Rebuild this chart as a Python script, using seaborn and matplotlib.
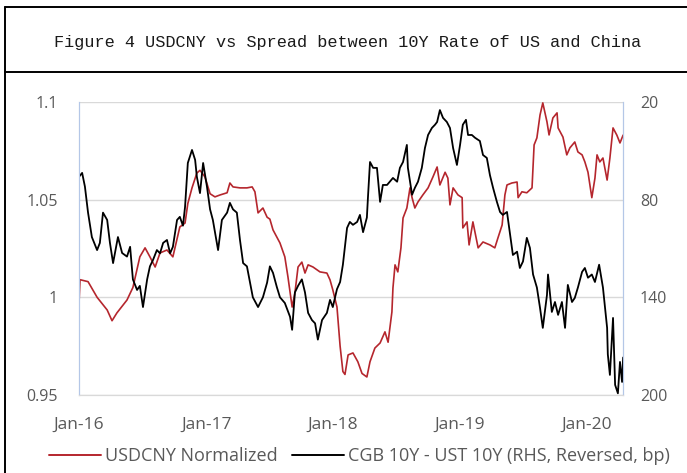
import matplotlib
matplotlib.use("Agg")
import matplotlib.pyplot as plt
import matplotlib.dates as mdates
from matplotlib.lines import Line2D
import seaborn as sns
import pandas as pd

# USDCNY normalized (left axis)
fx_dates = [
    "2016-01-01", "2016-01-04", "2016-01-27", "2016-02-22", "2016-03-22", "2016-04-05",
    "2016-04-19", "2016-05-18", "2016-06-04", "2016-06-24", "2016-07-09", "2016-07-23",
    "2016-08-07", "2016-08-21", "2016-09-10", "2016-09-27", "2016-10-17", "2016-11-01",
    "2016-11-09", "2016-11-21", "2016-12-05", "2016-12-14", "2016-12-28", "2017-01-12",
    "2017-01-26", "2017-02-10", "2017-03-02", "2017-03-10", "2017-03-19", "2017-04-08",
    "2017-04-28", "2017-05-13", "2017-05-21", "2017-05-30", "2017-06-13", "2017-06-25",
    "2017-07-03", "2017-07-12", "2017-08-01", "2017-08-15", "2017-08-24", "2017-09-05",
    "2017-09-13", "2017-09-22", "2017-10-03", "2017-10-12", "2017-10-21", "2017-11-04",
    "2017-11-24", "2017-12-14", "2017-12-23", "2017-12-31", "2018-01-12", "2018-01-21",
    "2018-01-29", "2018-02-04", "2018-02-13", "2018-02-27", "2018-03-13", "2018-03-25",
    "2018-04-08", "2018-04-17", "2018-05-01", "2018-05-16", "2018-05-30", "2018-06-08",
    "2018-06-19", "2018-06-22", "2018-06-28", "2018-07-06", "2018-07-15", "2018-07-21",
    "2018-08-01", "2018-08-10", "2018-08-16", "2018-08-24", "2018-09-02", "2018-09-16",
    "2018-10-01", "2018-10-15", "2018-10-27", "2018-11-04", "2018-11-19", "2018-11-27",
    "2018-12-03", "2018-12-12", "2018-12-26", "2019-01-07", "2019-01-09", "2019-01-21",
    "2019-01-27", "2019-02-07", "2019-02-22", "2019-03-08", "2019-03-28", "2019-04-11",
    "2019-04-20", "2019-05-02", "2019-05-10", "2019-05-16", "2019-05-30", "2019-06-14",
    "2019-06-17", "2019-06-28", "2019-07-12", "2019-07-27", "2019-08-02", "2019-08-10",
    "2019-08-19", "2019-08-27", "2019-09-08", "2019-09-14", "2019-09-25", "2019-10-07",
    "2019-10-10", "2019-10-24", "2019-11-04", "2019-11-13", "2019-11-27", "2019-12-06",
    "2019-12-18", "2019-12-26", "2020-01-04", "2020-01-15", "2020-01-24", "2020-01-30",
    "2020-02-07", "2020-02-16", "2020-02-28", "2020-03-07", "2020-03-16", "2020-03-27",
    "2020-04-05", "2020-04-14",
]
fx_values = [
    0.997, 1.009, 1.008, 1.000, 0.9935, 0.988,
    0.992, 0.9986, 1.005, 1.0207, 1.0253, 1.0207,
    1.0155, 1.0227, 1.0242, 1.0207, 1.036, 1.038,
    1.048, 1.056, 1.0636, 1.065, 1.0617, 1.053,
    1.0514, 1.0524, 1.0535, 1.0585, 1.0565, 1.056,
    1.056, 1.0565, 1.054, 1.0432, 1.0457, 1.041,
    1.040, 1.0345, 1.0278, 1.0207, 1.0104, 0.995,
    1.0022, 1.0155, 1.018, 1.0124, 1.0166, 1.0155,
    1.013, 1.0124, 1.0089, 1.0038, 0.995, 0.975,
    0.962, 0.9605, 0.9705, 0.9715, 0.967, 0.961,
    0.9592, 0.967, 0.974, 0.9766, 0.9823, 0.977,
    0.9925, 1.0048, 1.0166, 1.013, 1.0253, 1.0406,
    1.0457, 1.056, 1.051, 1.0457, 1.0488, 1.0524,
    1.056, 1.0616, 1.0667, 1.0575, 1.064, 1.061,
    1.0473, 1.056, 1.0524, 1.051, 1.0355, 1.0386,
    1.0268, 1.0386, 1.0253, 1.0283, 1.0268, 1.0253,
    1.0304, 1.037, 1.0524, 1.0575, 1.0585, 1.059,
    1.051, 1.054, 1.0535, 1.056, 1.078, 1.0816,
    1.0933, 1.0995, 1.0898, 1.0831, 1.0918, 1.0944,
    1.0867, 1.082, 1.0729, 1.0765, 1.0795, 1.0744,
    1.0729, 1.0693, 1.064, 1.051, 1.061, 1.0729,
    1.0693, 1.0713, 1.060, 1.0713, 1.0867, 1.083,
    1.079, 1.083,
]

# CGB 10Y - UST 10Y spread in bp (right axis, reversed)
spread_dates = [
    "2016-01-01", "2016-01-10", "2016-01-18", "2016-01-27", "2016-02-07", "2016-02-22",
    "2016-03-01", "2016-03-10", "2016-03-22", "2016-03-30", "2016-04-08", "2016-04-22",
    "2016-05-04", "2016-05-18", "2016-05-27", "2016-06-04", "2016-06-16", "2016-06-24",
    "2016-07-03", "2016-07-15", "2016-07-23", "2016-08-01", "2016-08-12", "2016-08-21",
    "2016-08-30", "2016-09-10", "2016-09-19", "2016-09-27", "2016-10-09", "2016-10-17",
    "2016-10-26", "2016-11-01", "2016-11-09", "2016-11-21", "2016-11-30", "2016-12-05",
    "2016-12-14", "2016-12-23", "2017-01-03", "2017-01-12", "2017-01-20", "2017-02-04",
    "2017-02-15", "2017-03-02", "2017-03-10", "2017-03-19", "2017-03-30", "2017-04-08",
    "2017-04-17", "2017-04-28", "2017-05-07", "2017-05-15", "2017-05-30", "2017-06-13",
    "2017-06-25", "2017-07-03", "2017-07-12", "2017-07-23", "2017-08-01", "2017-08-15",
    "2017-08-30", "2017-09-05", "2017-09-13", "2017-09-22", "2017-10-03", "2017-10-12",
    "2017-10-21", "2017-11-01", "2017-11-10", "2017-11-18", "2017-11-30", "2017-12-14",
    "2017-12-23", "2017-12-31", "2018-01-12", "2018-01-21", "2018-01-29", "2018-02-10",
    "2018-02-18", "2018-02-27", "2018-03-11", "2018-03-19", "2018-03-28", "2018-04-08",
    "2018-04-11", "2018-04-17", "2018-04-26", "2018-05-07", "2018-05-16", "2018-05-24",
    "2018-06-05", "2018-06-13", "2018-06-22", "2018-07-04", "2018-07-12", "2018-07-21",
    "2018-08-01", "2018-08-04", "2018-08-16", "2018-08-24", "2018-09-02", "2018-09-13",
    "2018-09-22", "2018-10-01", "2018-10-12", "2018-10-21", "2018-10-27", "2018-11-04",
    "2018-11-13", "2018-11-24", "2018-12-03", "2018-12-12", "2018-12-23", "2019-01-01",
    "2019-01-09", "2019-01-18", "2019-01-24", "2019-02-04", "2019-02-13", "2019-02-27",
    "2019-03-08", "2019-03-19", "2019-03-28", "2019-04-06", "2019-04-17", "2019-04-26",
    "2019-05-04", "2019-05-16", "2019-05-25", "2019-06-02", "2019-06-14", "2019-06-22",
    "2019-07-01", "2019-07-12", "2019-07-21", "2019-07-30", "2019-08-10", "2019-08-19",
    "2019-08-27", "2019-09-08", "2019-09-11", "2019-09-22", "2019-10-01", "2019-10-10",
    "2019-10-21", "2019-10-30", "2019-11-07", "2019-11-19", "2019-11-27", "2019-12-06",
    "2019-12-18", "2019-12-26", "2020-01-04", "2020-01-15", "2020-01-24", "2020-02-05",
    "2020-02-16", "2020-02-28", "2020-03-01", "2020-03-07", "2020-03-16", "2020-03-22",
    "2020-03-30", "2020-04-05", "2020-04-11", "2020-04-14",
]
spread_values = [
    66, 63.6, 72, 88, 103, 111,
    106.6, 88, 92.5, 106.6, 119, 103,
    112.8, 115, 109, 129, 135.5, 133,
    146, 129, 121, 117, 111, 113,
    106.6, 104.8, 113, 109, 92.5, 90.6,
    96, 84.5, 57.5, 49.5, 55.6, 66,
    76, 57.5, 72, 86, 92.5, 111,
    92.5, 88, 82, 86, 88, 104.8,
    119, 121, 131, 140, 146, 140,
    131, 121, 125, 133.7, 140, 143.5,
    152, 160, 137, 133, 129, 137,
    149.6, 154, 156, 166, 154, 149.6,
    141.6, 146, 135, 130.6, 120, 97.4,
    93.7, 95.5, 93.7, 89.4, 100, 91,
    79, 56.9, 60.5, 60.5, 81.4, 71,
    71, 69, 66.7, 69, 60.5, 56.9,
    46.4, 60.5, 77, 72.8, 69, 60.5,
    48.3, 40.3, 36, 34, 32.3, 25,
    29.8, 32.3, 36, 48.3, 58.7, 46.4,
    34, 31, 40.3, 40.3, 42, 44,
    52.6, 54.4, 65, 72.8, 81.4, 87.6,
    89.4, 87.6, 101.7, 114, 112, 122,
    118, 103.5, 109.7, 126, 134, 146.5,
    158.8, 138.6, 126, 149, 142.9, 150.8,
    142.9, 158.8, 132.4, 142.9, 140.4, 134,
    124.4, 122, 128, 126, 130.6, 120,
    134, 158.8, 175, 187.7, 152.7, 193.8,
    199, 179.7, 192, 177,
]

fx_label = "USDCNY Normalized"
spread_label = "CGB 10Y - UST 10Y (RHS, Reversed, bp)"
title_text = "Figure 4 USDCNY vs Spread between 10Y Rate of US and China"
x_tick_dates = ["2016-01-01", "2017-01-01", "2018-01-01", "2019-01-01", "2020-01-01"]
left_ticks = [0.95, 1.0, 1.05, 1.1]
left_tick_labels = ["0.95", "1", "1.05", "1.1"]
right_ticks = [20, 80, 140, 200]

fx_df = pd.DataFrame({"date": pd.to_datetime(fx_dates), "value": fx_values})
spread_df = pd.DataFrame({"date": pd.to_datetime(spread_dates), "value": spread_values})

sns.set_style("white")
plt.rcParams["font.family"] = ["Open Sans", "DejaVu Sans"]

red = "#b5262d"
grey_text = "#595959"
grid_col = "#d9d9d9"
spine_blue = "#b4c7e7"

fig = plt.figure(figsize=(6.87, 4.73), dpi=100)
ax = fig.add_axes([0.115, 0.165, 0.792, 0.6195])

sns.lineplot(data=fx_df, x="date", y="value", ax=ax, color=red, linewidth=1.2)
ax2 = ax.twinx()
sns.lineplot(data=spread_df, x="date", y="value", ax=ax2, color="black", linewidth=1.3)

ax.set_xlim(pd.Timestamp("2016-01-01"), pd.Timestamp("2020-04-14"))
ax.set_ylim(0.95, 1.1)
ax2.set_ylim(200, 20)

ax.set_yticks(left_ticks)
ax.set_yticklabels(left_tick_labels)
ax2.set_yticks(right_ticks)
ax.set_xticks(pd.to_datetime(x_tick_dates))
ax.xaxis.set_major_formatter(mdates.DateFormatter("%b-%y"))

ax.yaxis.grid(True, color=grid_col, linewidth=1)
ax.set_axisbelow(True)
ax.set_xlabel("")
ax.set_ylabel("")
ax2.set_ylabel("")

for a in (ax, ax2):
    a.spines["top"].set_visible(False)
    a.spines["left"].set_color(spine_blue)
    a.spines["right"].set_color(spine_blue)
    a.spines["bottom"].set_color(grid_col)
ax.tick_params(axis="x", length=4, width=1, color=grid_col, labelcolor=grey_text,
               labelsize=12.5, pad=12, direction="out")
ax.tick_params(axis="y", length=0, labelcolor=grey_text, labelsize=11.5, pad=15)
ax2.tick_params(axis="y", length=0, labelcolor=grey_text, labelsize=11.5, pad=12)

# frame and title box
fig.add_artist(Line2D([5 / 687, 5 / 687], [0, 1 - 7 / 473], color="black", lw=1.4,
                      transform=fig.transFigure))
fig.add_artist(Line2D([5 / 687, 1], [1 - 7 / 473, 1 - 7 / 473], color="black", lw=1.4,
                      transform=fig.transFigure))
fig.add_artist(Line2D([5 / 687, 1], [1 - 72 / 473, 1 - 72 / 473], color="black", lw=1.4,
                      transform=fig.transFigure))
fig.text(348 / 687, 1 - 42 / 473, title_text, ha="center", va="center",
         fontsize=12.2, family=["Liberation Mono", "DejaVu Sans Mono"], color="#1a1a1a")

handles = [Line2D([], [], color=red, lw=1.4), Line2D([], [], color="black", lw=1.4)]
fig.legend(handles, [fx_label, spread_label], loc="center", ncol=2,
           bbox_to_anchor=(359 / 687, 1 - 456 / 473), frameon=False, fontsize=13,
           labelcolor=grey_text, handlelength=2.9, handletextpad=0.2, columnspacing=0.8)

fig.savefig("out.png", dpi=100)
